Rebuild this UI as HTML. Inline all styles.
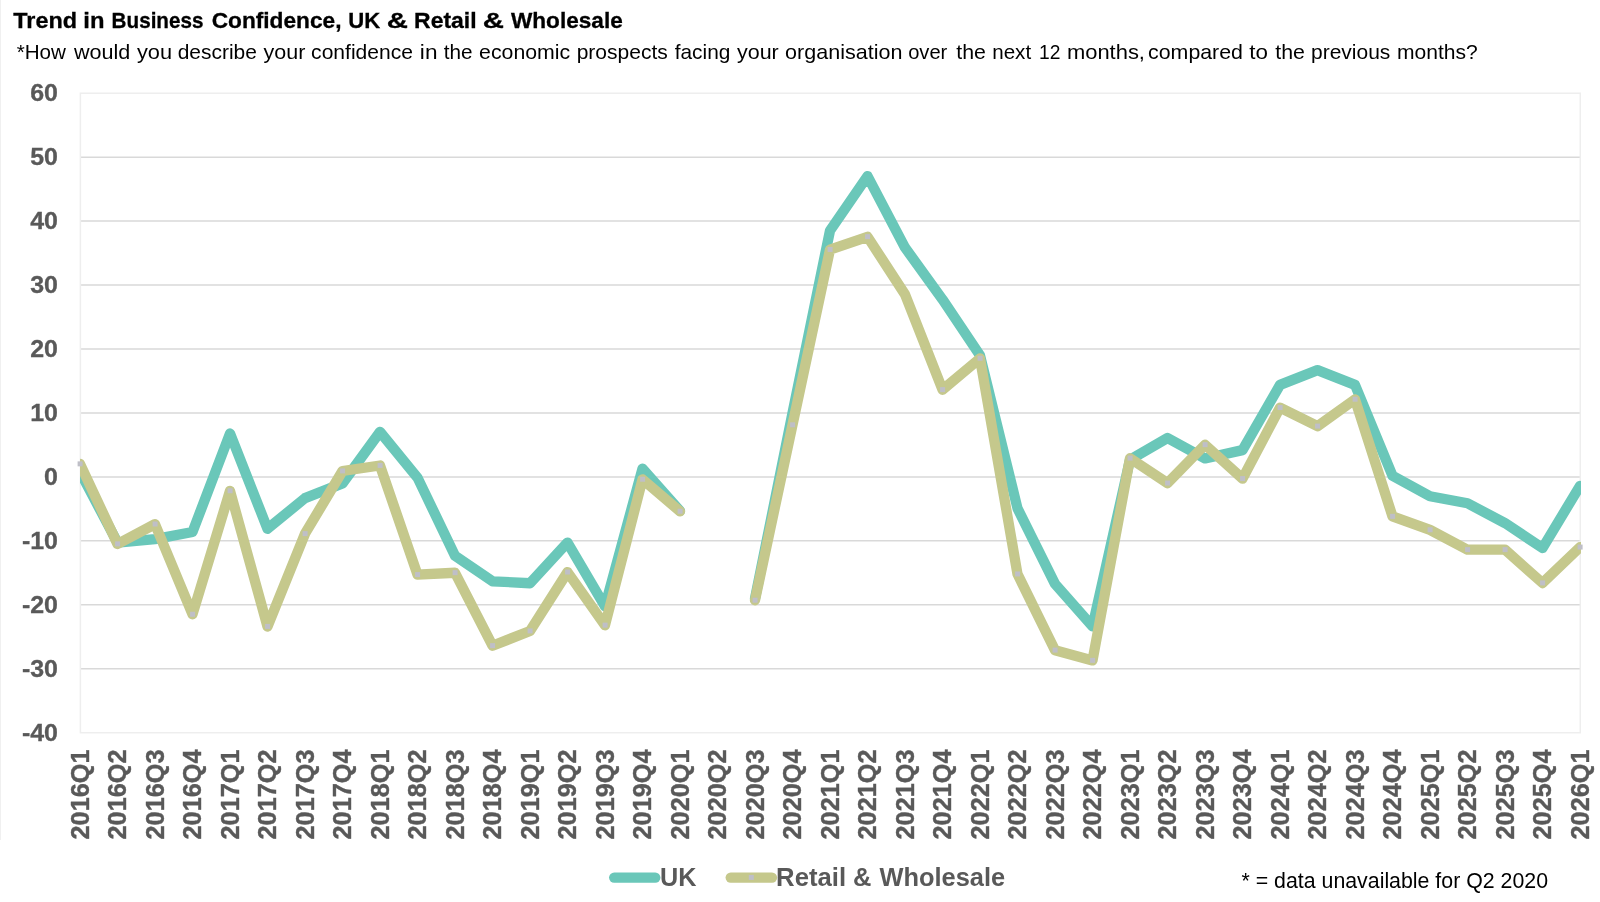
<!DOCTYPE html>
<html><head><meta charset="utf-8"><title>Trend in Business Confidence</title>
<style>html,body{margin:0;padding:0;background:#fff;}body{width:1600px;height:902px;overflow:hidden;}svg{display:block;will-change:transform;font-family:"Liberation Sans",sans-serif;}</style></head><body>
<svg width="1600" height="902" viewBox="0 0 1600 902">
<rect width="1600" height="902" fill="#fff"/>
<text x="13.34" y="27.6" font-size="22.2" font-weight="bold" fill="#000" textLength="63.77" lengthAdjust="spacingAndGlyphs" stroke="#000" stroke-width="0.3">Trend</text>
<text x="83.34" y="27.6" font-size="22.2" font-weight="bold" fill="#000" textLength="21.14" lengthAdjust="spacingAndGlyphs" stroke="#000" stroke-width="0.3">in</text>
<text x="111.62" y="27.6" font-size="22.2" font-weight="bold" fill="#000" textLength="91.83" lengthAdjust="spacingAndGlyphs" stroke="#000" stroke-width="0.3">Business</text>
<text x="211.67" y="27.6" font-size="22.2" font-weight="bold" fill="#000" textLength="129.85" lengthAdjust="spacingAndGlyphs" stroke="#000" stroke-width="0.3">Confidence,</text>
<text x="348.27" y="27.6" font-size="22.2" font-weight="bold" fill="#000" textLength="31.93" lengthAdjust="spacingAndGlyphs" stroke="#000" stroke-width="0.3">UK</text>
<text x="386.71" y="27.6" font-size="22.2" font-weight="bold" fill="#000" textLength="21.21" lengthAdjust="spacingAndGlyphs" stroke="#000" stroke-width="0.3">&amp;</text>
<text x="414.06" y="27.6" font-size="22.2" font-weight="bold" fill="#000" textLength="62.56" lengthAdjust="spacingAndGlyphs" stroke="#000" stroke-width="0.3">Retail</text>
<text x="482.71" y="27.6" font-size="22.2" font-weight="bold" fill="#000" textLength="21.21" lengthAdjust="spacingAndGlyphs" stroke="#000" stroke-width="0.3">&amp;</text>
<text x="510.98" y="27.6" font-size="22.2" font-weight="bold" fill="#000" textLength="111.79" lengthAdjust="spacingAndGlyphs" stroke="#000" stroke-width="0.3">Wholesale</text>
<text x="16.67" y="58.6" font-size="21.1" fill="#000" textLength="49.28" lengthAdjust="spacingAndGlyphs">*How</text>
<text x="74.03" y="58.6" font-size="21.1" fill="#000" textLength="56.36" lengthAdjust="spacingAndGlyphs">would</text>
<text x="136.95" y="58.6" font-size="21.1" fill="#000" textLength="35.10" lengthAdjust="spacingAndGlyphs">you</text>
<text x="177.72" y="58.6" font-size="21.1" fill="#000" textLength="79.21" lengthAdjust="spacingAndGlyphs">describe</text>
<text x="263.55" y="58.6" font-size="21.1" fill="#000" textLength="41.81" lengthAdjust="spacingAndGlyphs">your</text>
<text x="311.11" y="58.6" font-size="21.1" fill="#000" textLength="101.83" lengthAdjust="spacingAndGlyphs">confidence</text>
<text x="419.89" y="58.6" font-size="21.1" fill="#000" textLength="17.58" lengthAdjust="spacingAndGlyphs">in</text>
<text x="443.69" y="58.6" font-size="21.1" fill="#000" textLength="28.84" lengthAdjust="spacingAndGlyphs">the</text>
<text x="479.10" y="58.6" font-size="21.1" fill="#000" textLength="91.06" lengthAdjust="spacingAndGlyphs">economic</text>
<text x="576.65" y="58.6" font-size="21.1" fill="#000" textLength="91.11" lengthAdjust="spacingAndGlyphs">prospects</text>
<text x="674.70" y="58.6" font-size="21.1" fill="#000" textLength="55.64" lengthAdjust="spacingAndGlyphs">facing</text>
<text x="736.95" y="58.6" font-size="21.1" fill="#000" textLength="41.81" lengthAdjust="spacingAndGlyphs">your</text>
<text x="785.10" y="58.6" font-size="21.1" fill="#000" textLength="117.30" lengthAdjust="spacingAndGlyphs">organisation</text>
<text x="908.15" y="58.6" font-size="21.1" fill="#000" textLength="39.18" lengthAdjust="spacingAndGlyphs">over</text>
<text x="956.28" y="58.6" font-size="21.1" fill="#000" textLength="29.67" lengthAdjust="spacingAndGlyphs">the</text>
<text x="992.23" y="58.6" font-size="21.1" fill="#000" textLength="38.92" lengthAdjust="spacingAndGlyphs">next</text>
<text x="1038.93" y="58.6" font-size="21.1" fill="#000" textLength="21.44" lengthAdjust="spacingAndGlyphs">12</text>
<text x="1066.94" y="58.6" font-size="21.1" fill="#000" textLength="78.03" lengthAdjust="spacingAndGlyphs">months,</text>
<text x="1148.09" y="58.6" font-size="21.1" fill="#000" textLength="94.88" lengthAdjust="spacingAndGlyphs">compared</text>
<text x="1249.26" y="58.6" font-size="21.1" fill="#000" textLength="18.68" lengthAdjust="spacingAndGlyphs">to</text>
<text x="1275.28" y="58.6" font-size="21.1" fill="#000" textLength="29.67" lengthAdjust="spacingAndGlyphs">the</text>
<text x="1311.05" y="58.6" font-size="21.1" fill="#000" textLength="79.31" lengthAdjust="spacingAndGlyphs">previous</text>
<text x="1397.00" y="58.6" font-size="21.1" fill="#000" textLength="80.78" lengthAdjust="spacingAndGlyphs">months?</text>
<line x1="0.5" x2="0.5" y1="0" y2="840" stroke="#f0f0f0" stroke-width="1"/>
<line x1="80.4" x2="1580.3" y1="157.15" y2="157.15" stroke="#d9d9d9" stroke-width="1.5"/>
<line x1="80.4" x2="1580.3" y1="221.10" y2="221.10" stroke="#d9d9d9" stroke-width="1.5"/>
<line x1="80.4" x2="1580.3" y1="285.05" y2="285.05" stroke="#d9d9d9" stroke-width="1.5"/>
<line x1="80.4" x2="1580.3" y1="349.00" y2="349.00" stroke="#d9d9d9" stroke-width="1.5"/>
<line x1="80.4" x2="1580.3" y1="412.95" y2="412.95" stroke="#d9d9d9" stroke-width="1.5"/>
<line x1="80.4" x2="1580.3" y1="476.90" y2="476.90" stroke="#d9d9d9" stroke-width="1.5"/>
<line x1="80.4" x2="1580.3" y1="540.85" y2="540.85" stroke="#d9d9d9" stroke-width="1.5"/>
<line x1="80.4" x2="1580.3" y1="604.80" y2="604.80" stroke="#d9d9d9" stroke-width="1.5"/>
<line x1="80.4" x2="1580.3" y1="668.75" y2="668.75" stroke="#d9d9d9" stroke-width="1.5"/>
<rect x="80.4" y="93.2" width="1499.8999999999999" height="639.5" fill="none" stroke="#eeeeee" stroke-width="1.5"/>
<text transform="translate(58 101.30) scale(1.045 1)" font-size="23.9" font-weight="bold" fill="#595959" stroke="#595959" stroke-width="0.3" text-anchor="end">60</text>
<text transform="translate(58 165.25) scale(1.045 1)" font-size="23.9" font-weight="bold" fill="#595959" stroke="#595959" stroke-width="0.3" text-anchor="end">50</text>
<text transform="translate(58 229.20) scale(1.045 1)" font-size="23.9" font-weight="bold" fill="#595959" stroke="#595959" stroke-width="0.3" text-anchor="end">40</text>
<text transform="translate(58 293.15) scale(1.045 1)" font-size="23.9" font-weight="bold" fill="#595959" stroke="#595959" stroke-width="0.3" text-anchor="end">30</text>
<text transform="translate(58 357.10) scale(1.045 1)" font-size="23.9" font-weight="bold" fill="#595959" stroke="#595959" stroke-width="0.3" text-anchor="end">20</text>
<text transform="translate(58 421.05) scale(1.045 1)" font-size="23.9" font-weight="bold" fill="#595959" stroke="#595959" stroke-width="0.3" text-anchor="end">10</text>
<text transform="translate(58 485.00) scale(1.045 1)" font-size="23.9" font-weight="bold" fill="#595959" stroke="#595959" stroke-width="0.3" text-anchor="end">0</text>
<text transform="translate(58 548.95) scale(1.045 1)" font-size="23.9" font-weight="bold" fill="#595959" stroke="#595959" stroke-width="0.3" text-anchor="end">-10</text>
<text transform="translate(58 612.90) scale(1.045 1)" font-size="23.9" font-weight="bold" fill="#595959" stroke="#595959" stroke-width="0.3" text-anchor="end">-20</text>
<text transform="translate(58 676.85) scale(1.045 1)" font-size="23.9" font-weight="bold" fill="#595959" stroke="#595959" stroke-width="0.3" text-anchor="end">-30</text>
<text transform="translate(58 740.80) scale(1.045 1)" font-size="23.9" font-weight="bold" fill="#595959" stroke="#595959" stroke-width="0.3" text-anchor="end">-40</text>
<text transform="translate(88.80 839.5) rotate(-90)" font-size="25.8" font-weight="bold" fill="#595959" stroke="#595959" stroke-width="0.4" textLength="90" lengthAdjust="spacingAndGlyphs">2016Q1</text>
<text transform="translate(126.30 839.5) rotate(-90)" font-size="25.8" font-weight="bold" fill="#595959" stroke="#595959" stroke-width="0.4" textLength="90" lengthAdjust="spacingAndGlyphs">2016Q2</text>
<text transform="translate(163.80 839.5) rotate(-90)" font-size="25.8" font-weight="bold" fill="#595959" stroke="#595959" stroke-width="0.4" textLength="90" lengthAdjust="spacingAndGlyphs">2016Q3</text>
<text transform="translate(201.30 839.5) rotate(-90)" font-size="25.8" font-weight="bold" fill="#595959" stroke="#595959" stroke-width="0.4" textLength="90" lengthAdjust="spacingAndGlyphs">2016Q4</text>
<text transform="translate(238.80 839.5) rotate(-90)" font-size="25.8" font-weight="bold" fill="#595959" stroke="#595959" stroke-width="0.4" textLength="90" lengthAdjust="spacingAndGlyphs">2017Q1</text>
<text transform="translate(276.30 839.5) rotate(-90)" font-size="25.8" font-weight="bold" fill="#595959" stroke="#595959" stroke-width="0.4" textLength="90" lengthAdjust="spacingAndGlyphs">2017Q2</text>
<text transform="translate(313.80 839.5) rotate(-90)" font-size="25.8" font-weight="bold" fill="#595959" stroke="#595959" stroke-width="0.4" textLength="90" lengthAdjust="spacingAndGlyphs">2017Q3</text>
<text transform="translate(351.30 839.5) rotate(-90)" font-size="25.8" font-weight="bold" fill="#595959" stroke="#595959" stroke-width="0.4" textLength="90" lengthAdjust="spacingAndGlyphs">2017Q4</text>
<text transform="translate(388.80 839.5) rotate(-90)" font-size="25.8" font-weight="bold" fill="#595959" stroke="#595959" stroke-width="0.4" textLength="90" lengthAdjust="spacingAndGlyphs">2018Q1</text>
<text transform="translate(426.30 839.5) rotate(-90)" font-size="25.8" font-weight="bold" fill="#595959" stroke="#595959" stroke-width="0.4" textLength="90" lengthAdjust="spacingAndGlyphs">2018Q2</text>
<text transform="translate(463.80 839.5) rotate(-90)" font-size="25.8" font-weight="bold" fill="#595959" stroke="#595959" stroke-width="0.4" textLength="90" lengthAdjust="spacingAndGlyphs">2018Q3</text>
<text transform="translate(501.30 839.5) rotate(-90)" font-size="25.8" font-weight="bold" fill="#595959" stroke="#595959" stroke-width="0.4" textLength="90" lengthAdjust="spacingAndGlyphs">2018Q4</text>
<text transform="translate(538.80 839.5) rotate(-90)" font-size="25.8" font-weight="bold" fill="#595959" stroke="#595959" stroke-width="0.4" textLength="90" lengthAdjust="spacingAndGlyphs">2019Q1</text>
<text transform="translate(576.30 839.5) rotate(-90)" font-size="25.8" font-weight="bold" fill="#595959" stroke="#595959" stroke-width="0.4" textLength="90" lengthAdjust="spacingAndGlyphs">2019Q2</text>
<text transform="translate(613.80 839.5) rotate(-90)" font-size="25.8" font-weight="bold" fill="#595959" stroke="#595959" stroke-width="0.4" textLength="90" lengthAdjust="spacingAndGlyphs">2019Q3</text>
<text transform="translate(651.30 839.5) rotate(-90)" font-size="25.8" font-weight="bold" fill="#595959" stroke="#595959" stroke-width="0.4" textLength="90" lengthAdjust="spacingAndGlyphs">2019Q4</text>
<text transform="translate(688.80 839.5) rotate(-90)" font-size="25.8" font-weight="bold" fill="#595959" stroke="#595959" stroke-width="0.4" textLength="90" lengthAdjust="spacingAndGlyphs">2020Q1</text>
<text transform="translate(726.30 839.5) rotate(-90)" font-size="25.8" font-weight="bold" fill="#595959" stroke="#595959" stroke-width="0.4" textLength="90" lengthAdjust="spacingAndGlyphs">2020Q2</text>
<text transform="translate(763.80 839.5) rotate(-90)" font-size="25.8" font-weight="bold" fill="#595959" stroke="#595959" stroke-width="0.4" textLength="90" lengthAdjust="spacingAndGlyphs">2020Q3</text>
<text transform="translate(801.30 839.5) rotate(-90)" font-size="25.8" font-weight="bold" fill="#595959" stroke="#595959" stroke-width="0.4" textLength="90" lengthAdjust="spacingAndGlyphs">2020Q4</text>
<text transform="translate(838.80 839.5) rotate(-90)" font-size="25.8" font-weight="bold" fill="#595959" stroke="#595959" stroke-width="0.4" textLength="90" lengthAdjust="spacingAndGlyphs">2021Q1</text>
<text transform="translate(876.30 839.5) rotate(-90)" font-size="25.8" font-weight="bold" fill="#595959" stroke="#595959" stroke-width="0.4" textLength="90" lengthAdjust="spacingAndGlyphs">2021Q2</text>
<text transform="translate(913.80 839.5) rotate(-90)" font-size="25.8" font-weight="bold" fill="#595959" stroke="#595959" stroke-width="0.4" textLength="90" lengthAdjust="spacingAndGlyphs">2021Q3</text>
<text transform="translate(951.30 839.5) rotate(-90)" font-size="25.8" font-weight="bold" fill="#595959" stroke="#595959" stroke-width="0.4" textLength="90" lengthAdjust="spacingAndGlyphs">2021Q4</text>
<text transform="translate(988.80 839.5) rotate(-90)" font-size="25.8" font-weight="bold" fill="#595959" stroke="#595959" stroke-width="0.4" textLength="90" lengthAdjust="spacingAndGlyphs">2022Q1</text>
<text transform="translate(1026.30 839.5) rotate(-90)" font-size="25.8" font-weight="bold" fill="#595959" stroke="#595959" stroke-width="0.4" textLength="90" lengthAdjust="spacingAndGlyphs">2022Q2</text>
<text transform="translate(1063.80 839.5) rotate(-90)" font-size="25.8" font-weight="bold" fill="#595959" stroke="#595959" stroke-width="0.4" textLength="90" lengthAdjust="spacingAndGlyphs">2022Q3</text>
<text transform="translate(1101.30 839.5) rotate(-90)" font-size="25.8" font-weight="bold" fill="#595959" stroke="#595959" stroke-width="0.4" textLength="90" lengthAdjust="spacingAndGlyphs">2022Q4</text>
<text transform="translate(1138.80 839.5) rotate(-90)" font-size="25.8" font-weight="bold" fill="#595959" stroke="#595959" stroke-width="0.4" textLength="90" lengthAdjust="spacingAndGlyphs">2023Q1</text>
<text transform="translate(1176.30 839.5) rotate(-90)" font-size="25.8" font-weight="bold" fill="#595959" stroke="#595959" stroke-width="0.4" textLength="90" lengthAdjust="spacingAndGlyphs">2023Q2</text>
<text transform="translate(1213.80 839.5) rotate(-90)" font-size="25.8" font-weight="bold" fill="#595959" stroke="#595959" stroke-width="0.4" textLength="90" lengthAdjust="spacingAndGlyphs">2023Q3</text>
<text transform="translate(1251.30 839.5) rotate(-90)" font-size="25.8" font-weight="bold" fill="#595959" stroke="#595959" stroke-width="0.4" textLength="90" lengthAdjust="spacingAndGlyphs">2023Q4</text>
<text transform="translate(1288.80 839.5) rotate(-90)" font-size="25.8" font-weight="bold" fill="#595959" stroke="#595959" stroke-width="0.4" textLength="90" lengthAdjust="spacingAndGlyphs">2024Q1</text>
<text transform="translate(1326.30 839.5) rotate(-90)" font-size="25.8" font-weight="bold" fill="#595959" stroke="#595959" stroke-width="0.4" textLength="90" lengthAdjust="spacingAndGlyphs">2024Q2</text>
<text transform="translate(1363.80 839.5) rotate(-90)" font-size="25.8" font-weight="bold" fill="#595959" stroke="#595959" stroke-width="0.4" textLength="90" lengthAdjust="spacingAndGlyphs">2024Q3</text>
<text transform="translate(1401.30 839.5) rotate(-90)" font-size="25.8" font-weight="bold" fill="#595959" stroke="#595959" stroke-width="0.4" textLength="90" lengthAdjust="spacingAndGlyphs">2024Q4</text>
<text transform="translate(1438.80 839.5) rotate(-90)" font-size="25.8" font-weight="bold" fill="#595959" stroke="#595959" stroke-width="0.4" textLength="90" lengthAdjust="spacingAndGlyphs">2025Q1</text>
<text transform="translate(1476.30 839.5) rotate(-90)" font-size="25.8" font-weight="bold" fill="#595959" stroke="#595959" stroke-width="0.4" textLength="90" lengthAdjust="spacingAndGlyphs">2025Q2</text>
<text transform="translate(1513.80 839.5) rotate(-90)" font-size="25.8" font-weight="bold" fill="#595959" stroke="#595959" stroke-width="0.4" textLength="90" lengthAdjust="spacingAndGlyphs">2025Q3</text>
<text transform="translate(1551.30 839.5) rotate(-90)" font-size="25.8" font-weight="bold" fill="#595959" stroke="#595959" stroke-width="0.4" textLength="90" lengthAdjust="spacingAndGlyphs">2025Q4</text>
<text transform="translate(1588.80 839.5) rotate(-90)" font-size="25.8" font-weight="bold" fill="#595959" stroke="#595959" stroke-width="0.4" textLength="90" lengthAdjust="spacingAndGlyphs">2026Q1</text>
<clipPath id="c"><rect x="80" y="60" width="1501" height="700"/></clipPath>
<g clip-path="url(#c)" fill="none" stroke-linejoin="round" stroke-linecap="round" stroke-width="10.3">
<path d="M80.00 471.88 L117.50 542.60 L155.00 539.08 L192.50 532.04 L230.00 433.48 L267.50 528.84 L305.00 498.12 L342.50 483.40 L380.00 431.88 L417.50 477.64 L455.00 555.72 L492.50 581.32 L530.00 583.24 L567.50 542.60 L605.00 606.28 L642.50 468.62 L680.00 510.92 M755.00 598.60 L792.50 413.00 L830.00 230.60 L867.50 176.07 L905.00 247.56 L942.50 299.40 L980.00 355.40 L1017.50 508.36 L1055.00 583.88 L1092.50 626.44 L1130.00 459.72 L1167.50 437.96 L1205.00 458.44 L1242.50 450.12 L1280.00 384.84 L1317.50 370.12 L1355.00 384.84 L1392.50 475.72 L1430.00 496.20 L1467.50 503.24 L1505.00 523.08 L1542.50 548.04 L1580.00 485.96" stroke="#6ac7b9"/>
<path d="M80.00 463.96 L117.50 543.96 L155.00 524.12 L192.50 614.36 L230.00 490.84 L267.50 626.52 L305.00 533.72 L342.50 471.00 L380.00 465.50 L417.50 574.68 L455.00 572.76 L492.50 645.72 L530.00 631.00 L567.50 572.12 L605.00 625.24 L642.50 479.32 L680.00 511.32 M755.00 600.28 L792.50 424.92 L830.00 249.56 L867.50 236.76 L905.00 294.36 L942.50 389.72 L980.00 358.36 L1017.50 574.04 L1055.00 650.20 L1092.50 660.44 L1130.00 458.20 L1167.50 483.16 L1205.00 444.76 L1242.50 478.68 L1280.00 407.64 L1317.50 426.20 L1355.00 399.32 L1392.50 516.44 L1430.00 529.88 L1467.50 549.72 L1505.00 549.72 L1542.50 583.00 L1580.00 547.16" stroke="#c5c88c"/>
</g>
<rect x="77.60" y="461.36" width="5" height="5" fill="#bfbfc7"/>
<rect x="115.10" y="541.36" width="5" height="5" fill="#bfbfc7"/>
<rect x="152.60" y="521.52" width="5" height="5" fill="#bfbfc7"/>
<rect x="190.10" y="611.76" width="5" height="5" fill="#bfbfc7"/>
<rect x="227.60" y="488.24" width="5" height="5" fill="#bfbfc7"/>
<rect x="265.10" y="623.92" width="5" height="5" fill="#bfbfc7"/>
<rect x="302.60" y="531.12" width="5" height="5" fill="#bfbfc7"/>
<rect x="340.10" y="468.40" width="5" height="5" fill="#bfbfc7"/>
<rect x="377.60" y="462.90" width="5" height="5" fill="#bfbfc7"/>
<rect x="415.10" y="572.08" width="5" height="5" fill="#bfbfc7"/>
<rect x="452.60" y="570.16" width="5" height="5" fill="#bfbfc7"/>
<rect x="490.10" y="643.12" width="5" height="5" fill="#bfbfc7"/>
<rect x="527.60" y="628.40" width="5" height="5" fill="#bfbfc7"/>
<rect x="565.10" y="569.52" width="5" height="5" fill="#bfbfc7"/>
<rect x="602.60" y="622.64" width="5" height="5" fill="#bfbfc7"/>
<rect x="640.10" y="476.72" width="5" height="5" fill="#bfbfc7"/>
<rect x="677.60" y="508.72" width="5" height="5" fill="#bfbfc7"/>
<rect x="752.60" y="597.68" width="5" height="5" fill="#bfbfc7"/>
<rect x="790.10" y="422.32" width="5" height="5" fill="#bfbfc7"/>
<rect x="827.60" y="246.96" width="5" height="5" fill="#bfbfc7"/>
<rect x="865.10" y="234.16" width="5" height="5" fill="#bfbfc7"/>
<rect x="940.10" y="387.12" width="5" height="5" fill="#bfbfc7"/>
<rect x="977.60" y="355.76" width="5" height="5" fill="#bfbfc7"/>
<rect x="1015.10" y="571.44" width="5" height="5" fill="#bfbfc7"/>
<rect x="1052.60" y="647.60" width="5" height="5" fill="#bfbfc7"/>
<rect x="1090.10" y="657.84" width="5" height="5" fill="#bfbfc7"/>
<rect x="1127.60" y="455.60" width="5" height="5" fill="#bfbfc7"/>
<rect x="1165.10" y="480.56" width="5" height="5" fill="#bfbfc7"/>
<rect x="1202.60" y="442.16" width="5" height="5" fill="#bfbfc7"/>
<rect x="1240.10" y="476.08" width="5" height="5" fill="#bfbfc7"/>
<rect x="1277.60" y="405.04" width="5" height="5" fill="#bfbfc7"/>
<rect x="1315.10" y="423.60" width="5" height="5" fill="#bfbfc7"/>
<rect x="1352.60" y="396.72" width="5" height="5" fill="#bfbfc7"/>
<rect x="1390.10" y="513.84" width="5" height="5" fill="#bfbfc7"/>
<rect x="1427.60" y="527.28" width="5" height="5" fill="#bfbfc7"/>
<rect x="1465.10" y="547.12" width="5" height="5" fill="#bfbfc7"/>
<rect x="1502.60" y="547.12" width="5" height="5" fill="#bfbfc7"/>
<rect x="1540.10" y="580.40" width="5" height="5" fill="#bfbfc7"/>
<rect x="1577.60" y="544.56" width="5" height="5" fill="#bfbfc7"/>
<line x1="614.2" x2="655.3" y1="877.6" y2="877.6" stroke="#6ac7b9" stroke-width="10.3" stroke-linecap="round"/>
<text x="659.98" y="885.6" font-size="26" font-weight="bold" fill="#595959" textLength="36.45" lengthAdjust="spacingAndGlyphs">UK</text>
<line x1="730.7" x2="772" y1="877.6" y2="877.6" stroke="#c5c88c" stroke-width="10.3" stroke-linecap="round"/>
<rect x="748.8" y="874.9" width="5" height="5" fill="#bfbfc7"/>
<text x="776.08" y="885.6" font-size="26" font-weight="bold" fill="#595959" textLength="69.99" lengthAdjust="spacingAndGlyphs">Retail</text>
<text x="852.88" y="885.6" font-size="26" font-weight="bold" fill="#595959" textLength="18.42" lengthAdjust="spacingAndGlyphs">&amp;</text>
<text x="879.48" y="885.6" font-size="26" font-weight="bold" fill="#595959" textLength="125.69" lengthAdjust="spacingAndGlyphs">Wholesale</text>
<text x="1241.5" y="887.5" font-size="21.3" fill="#000" textLength="306.5" lengthAdjust="spacingAndGlyphs">* = data unavailable for Q2 2020</text>
</svg></body></html>
